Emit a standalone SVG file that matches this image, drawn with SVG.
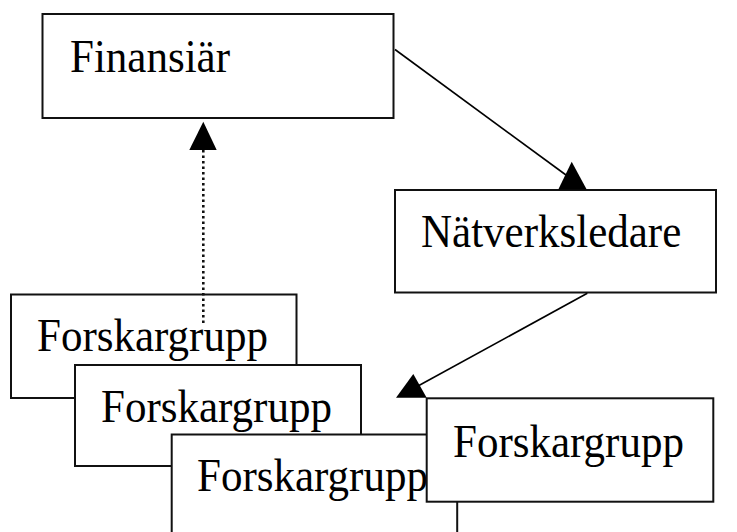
<svg xmlns="http://www.w3.org/2000/svg" width="737" height="532" viewBox="0 0 737 532">
<style>
.box{fill:#fff;stroke:#111;stroke-width:2}
.lbl{font-family:"Liberation Serif","Times New Roman",serif;font-size:46px;fill:#000}
.ln{stroke:#000;stroke-width:1.6;fill:none}
.dot{stroke:#111;stroke-width:2.6;fill:none;stroke-dasharray:2.5 3}
.head{fill:#000}
</style>
<rect width="737" height="532" fill="#fff"/>
<g id="finansiar">
<rect class="box" x="42.5" y="14" width="351" height="104"/>
<text class="lbl" transform="matrix(0.935 0 0 1 70 72)">Finansiär</text>
</g>
<g id="natverksledare">
<rect class="box" x="395" y="190" width="321" height="102.5"/>
<text class="lbl" transform="matrix(0.935 0 0 1 421 247)">Nätverksledare</text>
</g>
<g id="forskargrupp1">
<rect class="box" x="11" y="294.5" width="285.5" height="103.5"/>
<text class="lbl" transform="matrix(0.935 0 0 1 37 351)">Forskargrupp</text>
</g>
<g id="forskargrupp2">
<rect class="box" x="75" y="365" width="286" height="101"/>
<text class="lbl" transform="matrix(0.935 0 0 1 101 422)">Forskargrupp</text>
</g>
<g id="forskargrupp3">
<rect class="box" x="171.7" y="434.5" width="285.5" height="110"/>
<text class="lbl" transform="matrix(0.935 0 0 1 197 491)">Forskargrupp</text>
</g>
<g id="forskargrupp4">
<rect class="box" x="426.7" y="398.3" width="286.6" height="103.4"/>
<text class="lbl" transform="matrix(0.935 0 0 1 453 457)">Forskargrupp</text>
</g>
<g id="connectors">
<line class="ln" x1="395" y1="49.5" x2="566" y2="175"/>
<polygon class="head" points="571.7,161.7 558.3,189.5 586.7,189.5"/>
<line class="ln" x1="587.3" y1="293.3" x2="418" y2="386"/>
<polygon class="head" points="413.3,374 396,397.7 426.7,397.7"/>
<line class="dot" x1="203.3" y1="150" x2="203.3" y2="323"/>
<polygon class="head" points="203.3,121.7 189.3,150 216.7,150"/>
</g>
</svg>
